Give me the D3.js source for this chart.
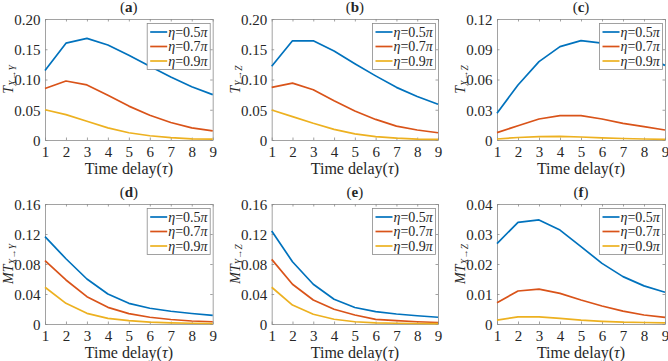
<html>
<meta charset="utf-8">
<style>
  body { margin: 0; background: #fff; }
</style>
<body>
<script src="https://d3js.org/d3.v7.min.js"></script>
<script>
// time delay tau
var tau = [1, 2, 3, 4, 5, 6, 7, 8, 9];
var etaLabels = ["0.5", "0.7", "0.9"];
var colors = ["#0072BD", "#D95319", "#EDB120"];

// (a) T X->Y
var aBlue   = [0.115, 0.160, 0.168, 0.157, 0.140, 0.122, 0.104, 0.088, 0.075];
var aRed    = [0.085, 0.0975, 0.091, 0.074, 0.056, 0.041, 0.029, 0.020, 0.015];
var aYellow = [0.050, 0.042, 0.031, 0.020, 0.012, 0.007, 0.004, 0.002, 0.0015];
// (b) T Y->Z
var bBlue   = [0.122, 0.164, 0.164, 0.147, 0.126, 0.106, 0.087, 0.072, 0.059];
var bRed    = [0.087, 0.094, 0.083, 0.065, 0.048, 0.034, 0.023, 0.0165, 0.012];
var bYellow = [0.0496, 0.0386, 0.0276, 0.0176, 0.010, 0.0055, 0.003, 0.0015, 0.001];
// (c) T X->Z
var cBlue   = [0.0265, 0.0546, 0.0777, 0.0926, 0.0985, 0.096, 0.091, 0.083, 0.074];
var cRed    = [0.0073, 0.0142, 0.0208, 0.0241, 0.0241, 0.0208, 0.0165, 0.0132, 0.0099];
var cYellow = [0.001, 0.0025, 0.0033, 0.0035, 0.003, 0.0022, 0.0015, 0.001, 0.0007];
// (d) MT X->Y
var dBlue   = [0.1164, 0.087, 0.060, 0.040, 0.0276, 0.021, 0.017, 0.014, 0.0115];
var dRed    = [0.0845, 0.0587, 0.0364, 0.0222, 0.0138, 0.009, 0.006, 0.004, 0.003];
var dYellow = [0.049, 0.0276, 0.0142, 0.0076, 0.0044, 0.0025, 0.0015, 0.001, 0.0007];
// (e) MT Y->Z
var eBlue   = [0.124, 0.083, 0.053, 0.033, 0.022, 0.0164, 0.0133, 0.011, 0.009];
var eRed    = [0.0862, 0.053, 0.032, 0.0196, 0.012, 0.0062, 0.0044, 0.003, 0.002];
var eYellow = [0.049, 0.0253, 0.013, 0.0063, 0.003, 0.0015, 0.001, 0.0007, 0.0005];
// (f) MT X->Z
var fBlue   = [0.0268, 0.0339, 0.0347, 0.0313, 0.0258, 0.0202, 0.0158, 0.0127, 0.0106];
var fRed    = [0.0071, 0.0110, 0.0116, 0.0102, 0.0080, 0.0060, 0.0043, 0.0030, 0.0022];
var fYellow = [0.0013, 0.0024, 0.0024, 0.0019, 0.0013, 0.0009, 0.0006, 0.0005, 0.0004];

// y ticks for each panel
var ticksA = [0, 0.05, 0.10, 0.15, 0.20], tickLabA = ["0", "0.05", "0.10", "0.15", "0.20"];
var ticksC = [0, 0.03, 0.06, 0.09, 0.12], tickLabC = ["0", "0.03", "0.06", "0.09", "0.12"];
var ticksD = [0, 0.04, 0.08, 0.12, 0.16], tickLabD = ["0", "0.04", "0.08", "0.12", "0.16"];
var ticksF = [0, 0.01, 0.02, 0.03, 0.04], tickLabF = ["0", "0.01", "0.02", "0.03", "0.04"];

var panels = [
  {tag: "a", pre: "", sub: ["X", "Y"], series: [aBlue, aRed, aYellow], ticks: ticksA, labs: tickLabA, x0: 45, x1: 212.7, y0: 19, y1: 140},
  {tag: "b", pre: "", sub: ["Y", "Z"], series: [bBlue, bRed, bYellow], ticks: ticksA, labs: tickLabA, x0: 271.7, x1: 438, y0: 19, y1: 140},
  {tag: "c", pre: "", sub: ["X", "Z"], series: [cBlue, cRed, cYellow], ticks: ticksC, labs: tickLabC, x0: 497, x1: 665, y0: 19, y1: 140},
  {tag: "d", pre: "M", sub: ["X", "Y"], series: [dBlue, dRed, dYellow], ticks: ticksD, labs: tickLabD, x0: 45, x1: 212.7, y0: 204, y1: 324},
  {tag: "e", pre: "M", sub: ["Y", "Z"], series: [eBlue, eRed, eYellow], ticks: ticksD, labs: tickLabD, x0: 271.7, x1: 438, y0: 204, y1: 324},
  {tag: "f", pre: "M", sub: ["X", "Z"], series: [fBlue, fRed, fYellow], ticks: ticksF, labs: tickLabF, x0: 497, x1: 665, y0: 204, y1: 324}
];

var serif = "'Liberation Serif', 'Times New Roman', serif";

var svg = d3.select("body").append("svg")
    .attr("width", 668)
    .attr("height", 361);

var boxColor = "#8a8a8a";

panels.forEach(function(p) {
  var x = d3.scaleLinear().domain([1, 9]).range([p.x0, p.x1]);
  var y = d3.scaleLinear().domain([p.ticks[0], p.ticks[p.ticks.length - 1]]).range([p.y1, p.y0]);
  var g = svg.append("g");

  // white plot area
  g.append("rect")
    .attr("x", p.x0).attr("y", p.y0)
    .attr("width", p.x1 - p.x0).attr("height", p.y1 - p.y0)
    .attr("fill", "#fff");

  // axes with inward ticks on all four sides
  var xb = g.append("g").attr("transform", "translate(0," + p.y1 + ")")
    .call(d3.axisBottom(x).tickValues(tau).tickSizeInner(-2.5).tickSizeOuter(0).tickPadding(6).tickFormat(d3.format("d")));
  var xt = g.append("g").attr("transform", "translate(0," + p.y0 + ")")
    .call(d3.axisTop(x).tickValues(tau).tickSizeInner(-2.5).tickSizeOuter(0).tickFormat(""));
  var yl = g.append("g").attr("transform", "translate(" + p.x0 + ",0)")
    .call(d3.axisLeft(y).tickValues(p.ticks).tickSizeInner(-2.5).tickSizeOuter(0).tickPadding(4.5)
      .tickFormat(function(d, i) { return p.labs[i]; }));
  var yr = g.append("g").attr("transform", "translate(" + p.x1 + ",0)")
    .call(d3.axisRight(y).tickValues(p.ticks).tickSizeInner(-2.5).tickSizeOuter(0).tickFormat(""));

  [xb, xt, yl, yr].forEach(function(ax) {
    ax.select(".domain").attr("stroke", boxColor).attr("stroke-width", 0.8);
    ax.selectAll(".tick line").attr("stroke", boxColor).attr("stroke-width", 0.8);
    ax.selectAll("text").style("font-family", serif).attr("font-size", 15).attr("fill", "#262626");
  });
  yl.selectAll("text").attr("dy", "0.35em");

  // lines
  var line = d3.line()
    .x(function(d, i) { return x(tau[i]); })
    .y(function(d) { return y(d); });
  p.series.forEach(function(s, k) {
    g.append("path")
      .datum(s)
      .attr("d", line)
      .attr("fill", "none")
      .attr("stroke", colors[k])
      .attr("stroke-width", 1.7)
      .attr("stroke-linejoin", "round");
  });

  // legend
  var lw = 63, lh = 46;
  var lx = p.x1 - 2.5 - lw, ly = p.y0 + 4.5;
  var lg = g.append("g").attr("transform", "translate(" + lx + "," + ly + ")");
  lg.append("rect").attr("width", lw).attr("height", lh)
    .attr("fill", "#fff").attr("stroke", boxColor).attr("stroke-width", 0.8);
  etaLabels.forEach(function(e, k) {
    var cy = 8.5 + k * 14.5;
    lg.append("line").attr("x1", 3).attr("x2", 20).attr("y1", cy).attr("y2", cy)
      .attr("stroke", colors[k]).attr("stroke-width", 1.7);
    var t = lg.append("text").attr("x", 21).attr("y", cy).attr("dy", "0.35em")
      .style("font-family", serif).attr("fill", "#262626")
      .attr("font-size", 14);
    t.append("tspan").attr("font-style", "italic").text("η");
    t.append("tspan").text("=" + e);
    t.append("tspan").attr("font-style", "italic").text("π");
  });

  // title
  var tt = g.append("text")
    .attr("x", (p.x0 + p.x1) / 2)
    .attr("y", p.y0 - 12)
    .attr("dy", "0.35em")
    .attr("text-anchor", "middle")
    .style("font-family", serif).attr("fill", "#262626")
    .attr("font-size", 15);
  tt.append("tspan").text("(");
  tt.append("tspan").attr("font-weight", "bold").text(p.tag);
  tt.append("tspan").text(")");

  // x label
  var xl = g.append("text")
    .attr("x", (p.x0 + p.x1) / 2)
    .attr("y", p.y1 + 28)
    .attr("dy", "0.35em")
    .attr("text-anchor", "middle")
    .style("font-family", serif).attr("fill", "#262626")
    .attr("font-size", 16);
  xl.append("tspan").text("Time delay(");
  xl.append("tspan").attr("font-style", "italic").text("τ");
  xl.append("tspan").text(")");

  // y label
  var ylab = g.append("text")
    .attr("transform", "translate(" + (p.x0 - 32) + "," + ((p.y0 + p.y1) / 2) + ") rotate(-90)")
    .attr("text-anchor", "middle")
    .style("font-family", serif).attr("fill", "#262626")
    .attr("font-size", 14);
  ylab.append("tspan").attr("font-style", "italic").text(p.pre + "T");
  ylab.append("tspan").attr("font-size", 9.5).attr("dy", 2.5).attr("font-style", "italic").text(p.sub[0]);
  ylab.append("tspan").attr("font-size", 9.5).text("→");
  ylab.append("tspan").attr("font-size", 9.5).attr("font-style", "italic").text(p.sub[1]);
});
</script>
</body>
</html>
